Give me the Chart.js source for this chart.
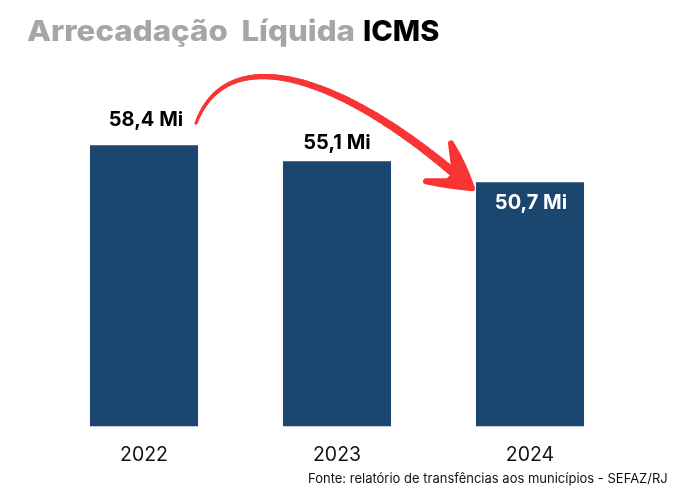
<!DOCTYPE html>
<html><head><meta charset="utf-8">
<style>html,body{margin:0;padding:0;background:#fff}canvas{display:block}</style>
<script src="https://cdn.jsdelivr.net/npm/chart.js@4"></script>
</head><body><canvas id="c" width="674" height="488"></canvas>
<script>
const categories = ["2022","2023","2024"];
const values = [58.4,55.1,50.7];
const valueLabels = ["58,4 Mi","55,1 Mi","50,7 Mi"];
const titleGray = "Arrecadação  Líquida";
const titleBlack = "ICMS";
const sourceText = "Fonte: relatório de transfências aos municípios - SEFAZ/RJ";
const FONT = "Inter, 'Open Sans', sans-serif";

const overlay = {
  id:'overlay',
  afterDatasetsDraw(chart){
    const {ctx,scales:{x,y}} = chart;
    ctx.save();
    // value labels
    ctx.font = "700 20px "+FONT; ctx.textAlign='center'; ctx.textBaseline='middle';
    const dx=[2,0,1], dy=[-25,-18,21], col=['#000','#000','#fff'];
    values.forEach((v,i)=>{
      ctx.fillStyle=col[i];
      ctx.fillText(valueLabels[i], x.getPixelForValue(i)+dx[i], y.getPixelForValue(v)+dy[i]);
    });
    // arrow shaft
    const A=[x.getPixelForValue(0)+52, y.getPixelForValue(values[0])-22];
    const T=[x.getPixelForValue(2)-55, y.getPixelForValue(values[2])+10];
    const E=[T[0]-8,T[1]-8];
    const C1=[A[0]+32, A[1]-86], C2=[A[0]+150, A[1]-46];
    const seg=70;
    ctx.strokeStyle='#f93434'; ctx.fillStyle='#f93434'; ctx.lineCap='round'; ctx.lineJoin='round';
    let prev=A;
    for(let i=1;i<=seg;i++){
      const t=i/seg,u=1-t;
      const p=[0,1].map(k=>u*u*u*A[k]+3*u*u*t*C1[k]+3*u*t*t*C2[k]+t*t*t*E[k]);
      ctx.lineWidth=3+6*t;
      ctx.beginPath();ctx.moveTo(prev[0],prev[1]);ctx.lineTo(p[0],p[1]);ctx.stroke();
      prev=p;
    }
    // arrow head
    const P=(a,b)=>[T[0]+a,T[1]+b];
    ctx.lineWidth=6;
    ctx.beginPath();
    ctx.moveTo(...P(-24,-49));
    ctx.quadraticCurveTo(...P(-11,-28),...P(-3,-4));
    ctx.quadraticCurveTo(...P(-25,-6),...P(-49,-11));
    ctx.lineTo(...P(-27,-11));
    ctx.lineTo(...P(-20,-18));
    ctx.closePath();ctx.fill();ctx.stroke();
    // title
    ctx.textAlign='left'; ctx.textBaseline='alphabetic';
    ctx.font="800 29px "+FONT;
    const w=ctx.measureText(titleGray).width;
    ctx.save();
    ctx.translate(27,41); ctx.scale(328/w,1);
    ctx.fillStyle='#a6a6a6'; ctx.fillText(titleGray,0,0);
    ctx.restore();
    ctx.fillStyle='#000'; ctx.fillText(titleBlack,363,41);
    // source
    ctx.font="400 13px "+FONT; ctx.fillStyle='#111';
    ctx.fillText(sourceText,308,483);
    ctx.restore();
  }
};

new Chart(document.getElementById('c'),{
  type:'bar',
  data:{labels:categories,datasets:[{data:values,backgroundColor:'#1a4670',barPercentage:0.56,categoryPercentage:1}]},
  options:{
    responsive:false,animation:false,
    layout:{padding:{left:47.5,right:47.5,top:41.2,bottom:4}},
    plugins:{legend:{display:false},tooltip:{enabled:false}},
    scales:{
      x:{grid:{display:false,drawTicks:false},border:{display:false},ticks:{color:'#111',font:{family:FONT,size:19.5,weight:'400'},padding:17,maxRotation:0}},
      y:{display:false,min:0,max:80}
    }
  },
  plugins:[overlay]
});
</script></body></html>
